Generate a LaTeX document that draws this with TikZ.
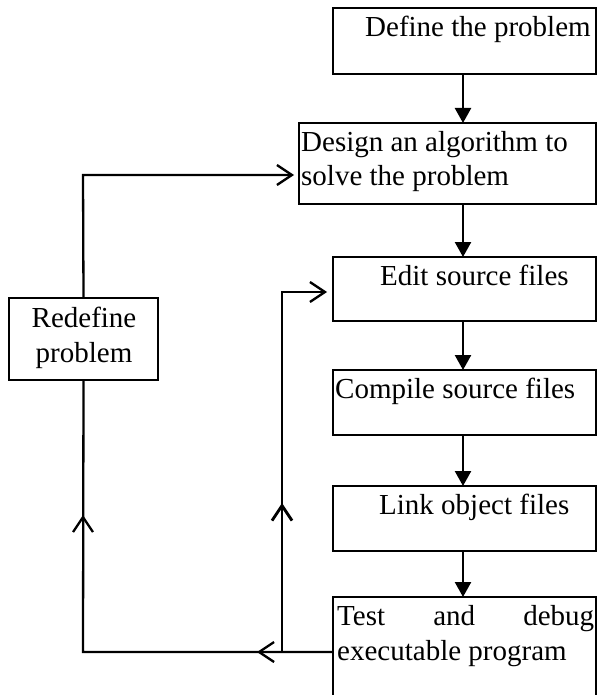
\documentclass[tikz,border=0pt]{standalone}
\usepackage{fontspec}
\setmainfont{Liberation Serif}
\usetikzlibrary{arrows.meta,calc}
\begin{document}
\begin{tikzpicture}[x=1pt,y=-1pt,
  box/.style={draw,line width=1.8pt,rectangle,inner sep=0pt,outer sep=0pt,anchor=north west},
  txt/.style={anchor=base west,inner sep=0pt,font=\fontsize{29}{35}\selectfont},
  flow/.style={line width=2.4pt,-{Triangle[length=15pt,width=16pt]}},
  back/.style={line width=2.3pt,line join=miter},
  barb/.style={line width=2.3pt,line join=miter,-{Straight Barb[length=15pt,width=20pt]}}]

\clip (0,0) rectangle (600,695);

% process boxes
\node[box,minimum width=263pt,minimum height=66pt]  (define)   at (333,8)   {};
\node[box,minimum width=297pt,minimum height=81pt]  (design)   at (299,123) {};
\node[box,minimum width=263pt,minimum height=64pt]  (edit)     at (333,257) {};
\node[box,minimum width=263pt,minimum height=65pt]  (compile)  at (333,370) {};
\node[box,minimum width=263pt,minimum height=65pt]  (link)     at (333,486) {};
\node[box,minimum width=263pt,minimum height=130pt] (test)     at (333,597) {};
\node[box,minimum width=149pt,minimum height=82pt]  (redefine) at (9,298)   {};

% box texts
\node[txt] (tDefine)  at (365,37)  {Define the problem};
\node[txt] (tDesignA) at (301,152) {Design an algorithm to};
\node[txt] (tDesignB) at (301,185) {solve the problem};
\node[txt] (tEdit)    at (380,285) {Edit source files};
\node[txt] (tCompile) at (335,398) {Compile source files};
\node[txt] (tLink)    at (379,514) {Link object files};
\node[txt] (tTestA)   at (337,625) {\makebox[257pt][s]{Test\hfill and\hfill debug}};
\node[txt] (tTestB)   at (337,660) {executable program};
\node[txt,anchor=base] (tRedefA) at (84,327) {Redefine};
\node[txt,anchor=base] (tRedefB) at (84,362) {problem};

% main flow down the right column
\coordinate (spine) at (463,0);
\foreach \a/\b in {define/design,design/edit,edit/compile,compile/link,link/test}
  \draw[flow] (\a.south -| spine) -- (\b.north -| spine);

% feedback loops
\coordinate (inner)    at (282,652);
\coordinate (outer)    at (83,652);
\coordinate (innerTop) at (282,292);
\coordinate (outerTop) at (83,175);
\coordinate (leftTip)  at (257,652);
\coordinate (innerUpA) at (282,565);
\coordinate (innerUpB) at (282,503);
\coordinate (outerUpA) at (83,575);
\coordinate (outerUpB) at (83,515);

\draw[back] (test.west |- inner) -- (outer) -- (redefine.south);
\draw[barb] (inner) -- (leftTip);
\draw[barb,shorten >=6pt] (inner) -- (innerTop) -- (edit.west |- innerTop);
\draw[barb,line width=2.9pt] (innerUpA) -- (innerUpB);
\draw[barb] (outerUpA) -- (outerUpB);
\draw[barb,shorten >=5pt] (redefine.north) -- (outerTop) -- (design.west |- outerTop);

\end{tikzpicture}
\end{document}
